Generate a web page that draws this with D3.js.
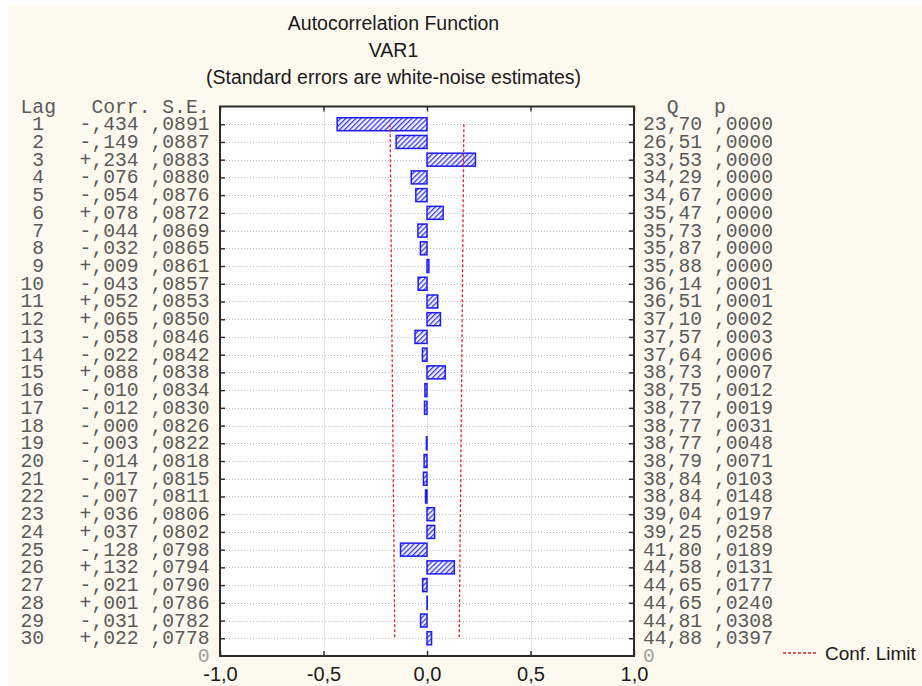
<!DOCTYPE html>
<html>
<head>
<meta charset="utf-8">
<script src="https://cdn.jsdelivr.net/npm/d3@7/dist/d3.min.js"></script>
<style>
  html, body { margin: 0; padding: 0; background: #fff; }
  svg { display: block; }
  .mono { font-family: "Liberation Mono", "Courier New", monospace; font-size: 19.7px; fill: #5a5a5a; white-space: pre; }
  .sans { font-family: "Liberation Sans", Arial, sans-serif; fill: #1a1a1a; }
</style>
</head>
<body>
<svg id="chart" width="922" height="686"></svg>
<script>
// ACF table
var lags = [1, 2, 3, 4, 5, 6, 7, 8, 9, 10, 11, 12, 13, 14, 15,
            16, 17, 18, 19, 20, 21, 22, 23, 24, 25, 26, 27, 28, 29, 30];
var corr = [-0.434, -0.149, 0.234, -0.076, -0.054, 0.078, -0.044, -0.032, 0.009, -0.043,
            0.052, 0.065, -0.058, -0.022, 0.088, -0.010, -0.012, -0.000, -0.003, -0.014,
            -0.017, -0.007, 0.036, 0.037, -0.128, 0.132, -0.021, 0.001, -0.031, 0.022];
var stdErr = [0.0891, 0.0887, 0.0883, 0.0880, 0.0876, 0.0872, 0.0869, 0.0865, 0.0861, 0.0857,
              0.0853, 0.0850, 0.0846, 0.0842, 0.0838, 0.0834, 0.0830, 0.0826, 0.0822, 0.0818,
              0.0815, 0.0811, 0.0806, 0.0802, 0.0798, 0.0794, 0.0790, 0.0786, 0.0782, 0.0778];
var qStat = [23.70, 26.51, 33.53, 34.29, 34.67, 35.47, 35.73, 35.87, 35.88, 36.14,
             36.51, 37.10, 37.57, 37.64, 38.73, 38.75, 38.77, 38.77, 38.77, 38.79,
             38.84, 38.84, 39.04, 39.25, 41.80, 44.58, 44.65, 44.65, 44.81, 44.88];
var pVal = [0.0000, 0.0000, 0.0000, 0.0000, 0.0000, 0.0000, 0.0000, 0.0000, 0.0000, 0.0001,
            0.0001, 0.0002, 0.0003, 0.0006, 0.0007, 0.0012, 0.0019, 0.0031, 0.0048, 0.0071,
            0.0103, 0.0148, 0.0197, 0.0258, 0.0189, 0.0131, 0.0177, 0.0240, 0.0308, 0.0397];
var xTicks = [-1, -0.5, 0, 0.5, 1];
var titles = ["Autocorrelation Function", "VAR1", "(Standard errors are white-noise estimates)"];

var svg = d3.select("#chart");

var plot = {left: 220, right: 634, top: 106.5, bottom: 656};
var x = d3.scaleLinear().domain([-1, 1]).range([plot.left, plot.right]);
// row 0 = header line, row 31 = bottom edge
var y = d3.scaleLinear().domain([0, 31]).range([plot.top, plot.bottom]);

var charW = 19.7 * 0.6;
var leftX = 20.5, rightX = 643;

// comma decimals like the original
function dec(v, n) {
  return Math.abs(v).toFixed(n).replace(/^0\./, ",").replace(".", ",");
}
function signed(v) {
  return ((v < 0 || Object.is(v, -0)) ? "-" : "+") + dec(v, 3);
}

// background
svg.append("rect")
  .attr("x", 8).attr("y", 5).attr("width", 914).attr("height", 681)
  .attr("fill", "#fef9ee");

var defs = svg.append("defs");
var pat = defs.append("pattern")
  .attr("id", "hatch")
  .attr("patternUnits", "userSpaceOnUse")
  .attr("width", 3.6).attr("height", 3.6)
  .attr("patternTransform", "rotate(45)");
pat.append("rect").attr("width", 3.6).attr("height", 3.6).attr("fill", "#f2f2ff");
pat.append("line")
  .attr("x1", 0.6).attr("y1", 0).attr("x2", 0.6).attr("y2", 3.6)
  .attr("stroke", "#3434f2").attr("stroke-width", 1.3);

// titles
svg.selectAll("text.title")
  .data(titles)
  .enter().append("text")
  .attr("class", "title sans")
  .attr("x", 393.5)
  .attr("y", function(d, i) { return [29.5, 56.5, 84][i]; })
  .attr("text-anchor", "middle")
  .attr("font-size", 19.5)
  .text(function(d) { return d; });

// plot area
svg.append("rect")
  .attr("x", plot.left).attr("y", plot.top)
  .attr("width", plot.right - plot.left).attr("height", plot.bottom - plot.top)
  .attr("fill", "#fff");

// grid lines
var grid = svg.append("g")
  .attr("stroke", "#bdbdbd").attr("stroke-width", 1)
  .attr("stroke-dasharray", "1,2");
grid.selectAll("line.h")
  .data(lags)
  .enter().append("line")
  .attr("x1", plot.left).attr("x2", plot.right)
  .attr("y1", function(d) { return Math.round(y(d)) + 0.5; })
  .attr("y2", function(d) { return Math.round(y(d)) + 0.5; });
grid.selectAll("line.v")
  .data([-0.5, 0, 0.5])
  .enter().append("line")
  .attr("y1", plot.top).attr("y2", plot.bottom)
  .attr("x1", function(d) { return Math.round(x(d)) + 0.5; })
  .attr("x2", function(d) { return Math.round(x(d)) + 0.5; });

// bars
var rows = lags.map(function(l, i) {
  return {lag: l, corr: corr[i], se: stdErr[i], q: qStat[i], p: pVal[i]};
});

svg.append("g")
  .selectAll("rect")
  .data(rows)
  .enter().append("rect")
  .attr("x", function(d) { return x(Math.min(0, d.corr)); })
  .attr("y", function(d) { return y(d.lag) - 6.5; })
  .attr("width", function(d) { return Math.abs(x(d.corr) - x(0)); })
  .attr("height", 13)
  .attr("fill", "url(#hatch)")
  .attr("stroke", "#1c1cf0")
  .attr("stroke-width", 1.5);

// confidence limits (+/- 2 S.E.)
var conf = svg.append("g")
  .attr("fill", "none")
  .attr("stroke", "#e3262b")
  .attr("stroke-width", 1.3)
  .attr("stroke-dasharray", "3,2");
[-2, 2].forEach(function(k) {
  conf.append("path")
    .datum(rows)
    .attr("d", d3.line()
      .x(function(d) { return x(k * d.se); })
      .y(function(d) { return y(d.lag); }));
});

// frame + ticks
function clean(g) {
  g.select(".domain").remove();
  g.selectAll(".tick line").attr("stroke", "#333").attr("stroke-width", 1.5);
}
svg.append("g")
  .attr("transform", "translate(" + plot.left + ",0)")
  .call(d3.axisLeft(y).tickValues(lags).tickSize(-5).tickFormat(""))
  .call(clean);
svg.append("g")
  .attr("transform", "translate(" + plot.right + ",0)")
  .call(d3.axisRight(y).tickValues(lags).tickSize(-5).tickFormat(""))
  .call(clean);
svg.append("g")
  .attr("transform", "translate(0," + plot.top + ")")
  .call(d3.axisTop(x).tickValues(xTicks).tickSize(-5).tickFormat(""))
  .call(clean);
var xAxis = svg.append("g")
  .attr("transform", "translate(0," + plot.bottom + ")")
  .call(d3.axisBottom(x).tickValues(xTicks).tickSize(-5).tickPadding(11)
    .tickFormat(function(v) { return (v < 0 ? "-" : "") + dec(v, 1).replace(/^,/, "0,"); }))
  .call(clean);
xAxis.selectAll("text")
  .attr("class", "sans")
  .attr("font-family", "Liberation Sans, Arial, sans-serif")
  .attr("font-size", 20)
  .attr("fill", "#1a1a1a");

svg.append("rect")
  .attr("x", plot.left).attr("y", plot.top)
  .attr("width", plot.right - plot.left).attr("height", plot.bottom - plot.top)
  .attr("fill", "none").attr("stroke", "#2b2b2b").attr("stroke-width", 2);

// left table: Lag, Corr., S.E.
var leftLines = [{row: 0, s: "Lag   Corr. S.E."}]
  .concat(rows.map(function(d) {
    return {row: d.lag, s: String(d.lag).padStart(2, " ") + "   " + signed(d.corr) + " " + dec(d.se, 4)};
  }));
svg.append("g")
  .selectAll("text")
  .data(leftLines)
  .enter().append("text")
  .attr("class", "mono")
  .attr("x", leftX)
  .attr("y", function(d) { return y(d.row) + 6; })
  .text(function(d) { return d.s; });

// right table: Q, p
var rightLines = [{row: 0, s: "  Q   p"}]
  .concat(rows.map(function(d) {
    return {row: d.lag, s: dec(d.q, 2) + " " + dec(d.p, 4)};
  }));
svg.append("g")
  .selectAll("text")
  .data(rightLines)
  .enter().append("text")
  .attr("class", "mono")
  .attr("x", rightX)
  .attr("y", function(d) { return y(d.row) + 6; })
  .text(function(d) { return d.s; });

// "0" labels on the bottom row
svg.append("text").attr("class", "mono")
  .attr("x", leftX + 15 * charW).attr("y", y(31) + 6)
  .style("fill", "#a0a0a0").text("0");
svg.append("text").attr("class", "mono")
  .attr("x", rightX).attr("y", y(31) + 6)
  .style("fill", "#a0a0a0").text("0");

// legend
svg.append("line")
  .attr("x1", 783).attr("x2", 816).attr("y1", 653).attr("y2", 653)
  .attr("stroke", "#e3262b").attr("stroke-width", 1.3).attr("stroke-dasharray", "3,2");
svg.append("text")
  .attr("class", "sans")
  .attr("x", 825).attr("y", 659.5)
  .attr("font-size", 19)
  .text("Conf. Limit");
</script>
</body>
</html>
